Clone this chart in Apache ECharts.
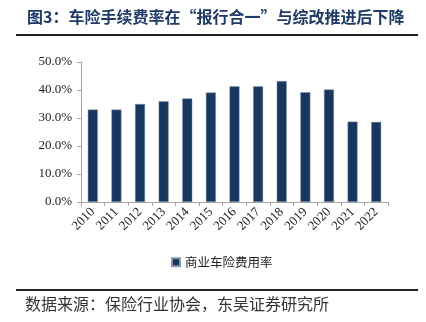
<!DOCTYPE html>
<html><head><meta charset="utf-8">
<script src="https://cdn.jsdelivr.net/npm/echarts@6/dist/echarts.min.js"></script>
<style>html,body{margin:0;padding:0;background:#fff}#c{width:426px;height:322px}</style>
</head><body><div id="c"></div>
<script>
const categories = ['2010','2011','2012','2013','2014','2015','2016','2017','2018','2019','2020','2021','2022'];
const values = [33.0, 33.0, 35.0, 36.0, 37.0, 39.1, 41.3, 41.3, 43.2, 39.2, 40.2, 28.7, 28.6];
const seriesName = '商业车险费用率';
const titleText = '图3：车险手续费率在“报行合一”与综改推进后下降';
const sourceText = '数据来源：保险行业协会，东吴证券研究所';

const chart = echarts.init(document.getElementById('c'), null, {renderer: 'canvas'});
chart.setOption({
  animation: false,
  backgroundColor: '#fff',
  grid: {left: 81, right: 38, top: 62, bottom: 120, containLabel: false},
  legend: {
    data: [seriesName], left: 166, top: 251, itemWidth: 8, itemHeight: 8, itemGap: 5,
    icon: 'rect',
    textStyle: {fontFamily: 'Noto Sans CJK SC', fontSize: 12.5, color: '#222'}
  },
  xAxis: {
    type: 'category', data: categories,
    axisLine: {lineStyle: {color: '#a6a6a6', width: 1}},
    axisTick: {show: true, length: 4, alignWithLabel: false, interval: 0, lineStyle: {color: '#a6a6a6'}},
    axisLabel: {rotate: 45, interval: 0, hideOverlap: false, fontFamily: 'Liberation Serif', fontSize: 13, color: '#222', margin: 8}
  },
  yAxis: {
    type: 'value', min: 0, max: 50, interval: 10,
    axisLine: {show: true, lineStyle: {color: '#a6a6a6', width: 1}},
    axisTick: {show: true, length: 4, inside: false, lineStyle: {color: '#a6a6a6'}},
    splitLine: {show: false},
    axisLabel: {formatter: v => v.toFixed(1) + '%', fontFamily: 'Liberation Serif', fontSize: 13, color: '#222', margin: 9}
  },
  series: [{
    name: seriesName, type: 'bar', data: values, barWidth: 10,
    itemStyle: {color: '#17375e', borderColor: '#8896a8', borderWidth: 0.5}
  }],
  graphic: [
    {type: 'text', left: 27, top: 9, style: {text: titleText, font: 'bold 16px "Noto Sans CJK SC"', fill: '#1f3a66'}},
    {type: 'rect', shape: {x: 16, y: 34, width: 402, height: 2}, style: {fill: '#222'}},
    {type: 'rect', shape: {x: 16, y: 289, width: 402, height: 2}, style: {fill: '#222'}},
    {type: 'text', left: 25, top: 296, style: {text: sourceText, font: '16px "Noto Sans CJK SC"', fill: '#333'}}
  ]
});
</script></body></html>
